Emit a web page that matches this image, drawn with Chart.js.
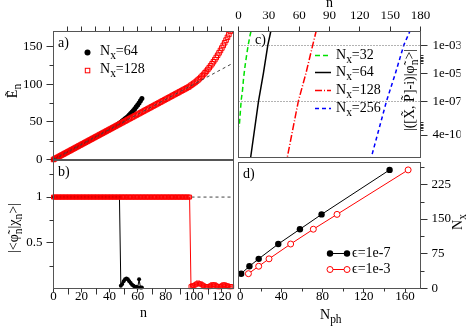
<!DOCTYPE html>
<html><head><meta charset="utf-8">
<script src="https://cdn.jsdelivr.net/npm/chart.js@4.4.1/dist/chart.umd.min.js"></script>
<style>
html,body{margin:0;padding:0;background:#fff;}
#wrap{position:relative;width:471px;height:330px;overflow:hidden;font-family:"Liberation Serif",serif;color:#000;}
canvas{position:absolute;left:0;top:0;}
svg{position:absolute;left:0;top:0;}
.t{position:absolute;white-space:nowrap;font-size:14px;line-height:16px;}
#wrap.small .t{font-size:12px;}
.r{transform:translate(-50%,-50%) rotate(-90deg);}
.t sub{font-size:0.82em;vertical-align:-0.35em;line-height:0;}
</style></head><body>
<div id="wrap">
<canvas id="ca" width="471" height="330"></canvas>
<canvas id="cb" width="471" height="330"></canvas>
<canvas id="cc" width="471" height="330"></canvas>
<canvas id="cd" width="471" height="330"></canvas>
<svg width="471" height="330">
  <circle cx="87.5" cy="52.5" r="3" fill="#000"/>
  <rect x="85.3" y="68.3" width="4.5" height="4.5" fill="none" stroke="#f00" stroke-width="1"/>
  <line x1="315" y1="55.5" x2="331" y2="55.5" stroke="rgb(0,225,0)" stroke-width="1.5" stroke-dasharray="5,3"/>
  <line x1="315" y1="72.5" x2="331" y2="72.5" stroke="#000" stroke-width="1.5"/>
  <line x1="315" y1="90.5" x2="331" y2="90.5" stroke="#f00" stroke-width="1.5" stroke-dasharray="7,2,1,2"/>
  <line x1="315" y1="108.5" x2="331" y2="108.5" stroke="#00f" stroke-width="1.5" stroke-dasharray="4,3"/>
  <line x1="330" y1="253.5" x2="347" y2="253.5" stroke="#000" stroke-width="1"/>
  <circle cx="330" cy="253.5" r="3.2" fill="#000"/>
  <circle cx="347" cy="253.5" r="3.2" fill="#000"/>
  <line x1="330" y1="269.5" x2="347" y2="269.5" stroke="#f00" stroke-width="1"/>
  <circle cx="330" cy="269.5" r="3" fill="#fff" stroke="#f00" stroke-width="1"/>
  <circle cx="347" cy="269.5" r="3" fill="#fff" stroke="#f00" stroke-width="1"/>
</svg>
<div class="t" style="left:58px;top:35px">a)</div>
<div class="t" style="left:58px;top:164px">b)</div>
<div class="t" style="left:255px;top:32px">c)</div>
<div class="t" style="left:243px;top:166px">d)</div>
<div class="t" style="left:100px;top:43px">N<sub>x</sub>=64</div>
<div class="t" style="left:100px;top:61px">N<sub>x</sub>=128</div>
<div class="t" style="left:336px;top:47px">N<sub>x</sub>=32</div>
<div class="t" style="left:336px;top:64px">N<sub>x</sub>=64</div>
<div class="t" style="left:336px;top:82px">N<sub>x</sub>=128</div>
<div class="t" style="left:336px;top:100px">N<sub>x</sub>=256</div>
<div class="t" style="left:352px;top:245px">ϵ=1e-7</div>
<div class="t" style="left:352px;top:261px">ϵ=1e-3</div>
<div class="t" style="left:326px;top:-5px">n</div>
<div class="t" style="left:140px;top:305px">n</div>
<div class="t" style="left:320px;top:307px">N<sub>ph</sub></div>
<div class="t r" style="left:13px;top:91px">Ẽ<sub>n</sub></div>
<div class="t r" style="left:14px;top:228px">|&lt;φ̃<sub>n</sub>|χ<sub>n</sub>&gt;|</div>
<div class="t r" style="left:410px;top:90px">|([X̃, P̃]-i)|φ̃<sub>n</sub>&gt;|</div>
<div class="t r" style="left:458px;top:222px">N<sub>x</sub></div>
</div>
<script>
// ---------- Panel a: energies E_n vs n (index = n) ----------
const energy64 = [0,1,2,3,4,5,6,7,8,9,10,11,12,13,14,15,16,17,18,19,20,21,22,23,24,25,26,27,28,29,30,31,32,33,34,35,36,37,38,39,40,41,42,43,44,
  45.3,46.7,48,49.5,51,52.5,54,55.5,57,59,61,63,65,67.5,70,72.5,75,78,81];
const energy128 = [0,1,2,3,4,5,6,7,8,9,10,11,12,13,14,15,16,17,18,19,20,21,22,23,24,25,26,27,28,29,30,31,32,33,34,35,36,37,38,39,
  40,41,42,43,44,45,46,47,48,49,50,51,52,53,54,55,56,57,58,59,60,61,62,63,64,65,66,67,68,69,70,71,72,73,74,75,76,77,78,79,
  80,81,82,83,84,85,86,87,88,89,90,91,92,93,94,95,96,97,
  98.6,99.8,101.1,102.5,104,105.6,107.3,109.1,111,113,115.1,117.3,119.6,122,124.5,127.1,129.8,132.6,135.5,138.5,
  141.6,144.8,148.1,151.5,155,158.6,162.3,166.1,170.2,174.5];
const guideAn = [0, 130];
const guideAE = [0, 130];
const aYTicks = [0, 50, 100, 150];
const aYMinor = [25, 75, 125];
const aTopTicks = [10, 20, 30, 40, 50, 60, 70, 80, 90, 100, 110, 120];

// ---------- Panel b: overlaps |<phi_n|chi_n>| vs n ----------
const overlap64 = [1,1,1,1,1,1,1,1,1,1,1,1,1,1,1,1,1,1,1,1,1,1,1,1,1,1,1,1,1,1,1,1,1,1,1,1,1,1,1,1,1,1,1,1,1,1,1,1,
  0.03,0.05,0.08,0.10,0.11,0.10,0.08,0.06,0.04,0.03,0.02,0.02,0.01,0.10,0.01,0.01];
const overlap128 = [1,1,1,1,1,1,1,1,1,1,1,1,1,1,1,1,1,1,1,1,1,1,1,1,1,1,1,1,1,1,1,1,1,1,1,1,1,1,1,1,1,1,1,1,1,1,1,1,1,1,
  1,1,1,1,1,1,1,1,1,1,1,1,1,1,1,1,1,1,1,1,1,1,1,1,1,1,1,1,1,1,1,1,1,1,1,1,1,1,1,1,1,1,1,1,1,1,1,1,
  0.02,0.03,0.03,0.04,0.05,0.06,0.05,0.05,0.04,0.03,0.02,0.02,0.02,0.02,0.03,0.04,0.04,0.04,0.03,0.02,
  0.02,0.02,0.03,0.04,0.04,0.03,0.03,0.02,0.02,0.02];
const guideBn = [0, 130];
const guideBv = [1, 1];
const bXTicks = [0, 20, 40, 60, 80, 100, 120];
const bXMinor = [10, 30, 50, 70, 90, 110];
const bYTicks = [0.5, 1];
const bYMinor = [0.25, 0.75, 1.25];

// ---------- Panel c: |([X,P]-i)|phi_n>| vs n ----------
const cN32 = [12.3, 11.5, 9.9, 8.3, 6.6, 5.0, 4.0, 2.7, 1.7, 0.7];
const cErr32 = [1e-2, 5.6e-3, 1.4e-3, 2.8e-4, 4e-5, 4.5e-6, 6.6e-7, 1.3e-7, 1.4e-8, 1.5e-9];
const cN64 = [32.3, 31.9, 29.0, 24.7, 19.8, 12.0];
const cN128 = [77.0, 76.7, 73.4, 66.8, 59.2, 48.2];
const cN256 = [169.8, 169.4, 163.5, 155.3, 146.4, 131.3];
const cErrCommon = [1.3e-2, 1e-2, 1.07e-3, 1.1e-5, 1.07e-7, 1e-11];
const cThresholds = [1e-3, 1e-7];
const cThreshN = [0, 180];
const cXTicks = [0, 30, 60, 90, 120, 150, 180];
const cYTicks = [1e-3, 1e-5, 1e-7, 4e-10];
const cYMinor = [2e-4, 1.6e-4, 1.3e-4, 1e-4, 8e-5, 6e-5, 3.2e-9, 2.5e-9, 2e-9, 1.6e-9, 1.3e-9, 1e-9];

// ---------- Panel d: N_x vs N_ph ----------
const dNx = [32, 48, 64, 96, 128, 160, 256];
const dNph7 = [1, 9, 18, 37, 58, 79, 145];
const dNph3 = [8, 18, 28, 49, 71, 94, 163];
const dXTicks = [0, 40, 80, 120, 160];
const dXMinor = [20, 60, 100, 140];
const dYTicks = [0, 75, 150, 225];
const dYMinor = [37.5, 112.5, 187.5, 262.5];

// ---------- font selection (Times-like serif if present) ----------
function hasFont(name) {
  const c = document.createElement('canvas').getContext('2d');
  const s = 'mmmmmmmmmmlli 0123456789 NxWQ e-03';
  for (const fb of ['monospace', 'sans-serif', 'serif']) {
    c.font = '40px ' + fb; const w0 = c.measureText(s).width;
    c.font = '40px "' + name + '", ' + fb; const w1 = c.measureText(s).width;
    if (Math.abs(w0 - w1) > 0.01) return true;
  }
  return false;
}
const serifCandidates = ['Liberation Serif', 'Times New Roman', 'Tinos', 'Nimbus Roman', 'Nimbus Roman No9 L', 'FreeSerif', 'Times'];
let fam = serifCandidates.find(hasFont);
let tickSize = 13;
if (!fam) { fam = 'DejaVu Serif'; tickSize = 11; document.getElementById('wrap').classList.add('small'); }
const FONT = '"' + fam + '", serif';
document.getElementById('wrap').style.fontFamily = FONT;

Chart.defaults.font.family = FONT;
Chart.defaults.font.size = tickSize;
Chart.defaults.color = '#000';
Chart.defaults.animation = false;

const framePlugin = {
  id: 'frame',
  afterDraw(chart) {
    const a = chart.chartArea, ctx = chart.ctx;
    ctx.save(); ctx.strokeStyle = '#555'; ctx.lineWidth = 1;
    ctx.strokeRect(a.left, a.top, a.right - a.left, a.bottom - a.top);
    ctx.restore();
  }
};
const minorPlugin = {
  id: 'minor',
  afterDraw(chart, args, opts) {
    const ctx = chart.ctx, a = chart.chartArea;
    (opts.list || []).forEach(m => {
      const s = chart.scales[m.axis];
      ctx.save(); ctx.strokeStyle = '#333'; ctx.lineWidth = 1; ctx.beginPath();
      m.values.forEach(v => {
        const p = Math.round(s.getPixelForValue(v)) + 0.5;
        if (s.isHorizontal()) {
          const y0 = s.position === 'top' ? a.top : a.bottom;
          const d = s.position === 'top' ? -1 : 1;
          ctx.moveTo(p, y0); ctx.lineTo(p, y0 + d * m.len);
        } else {
          const x0 = s.position === 'left' ? a.left : a.right;
          const d = s.position === 'left' ? -1 : 1;
          ctx.moveTo(x0, p); ctx.lineTo(x0 + d * m.len, p);
        }
      });
      ctx.stroke(); ctx.restore();
    });
  }
};

function axis(pos, min, max, ticks, o) {
  return {
    type: o.type || 'linear', position: pos, min: min, max: max,
    afterBuildTicks: s => { s.ticks = ticks.map(v => ({ value: v })); },
    afterFit: s => { if (s.isHorizontal()) s.height = o.size; else s.width = o.size; },
    grid: { display: true, drawOnChartArea: false, drawTicks: true, tickLength: o.tl, tickColor: '#333', tickWidth: 1 },
    border: { display: false },
    ticks: { display: o.labels !== false, padding: o.pad, autoSkip: false, maxRotation: 0, minRotation: 0,
      color: '#000', font: { family: FONT, size: tickSize }, callback: o.fmt || (v => String(v)) }
  };
}
function pts(xs, ys) { return xs.map((x, i) => ({ x: x, y: ys[i] })); }
function idx(vals) { return vals.map((v, i) => ({ x: i, y: v })); }
function base(padding, scales, minor) {
  return {
    responsive: false, animation: false, events: [],
    layout: { padding: padding },
    scales: scales,
    plugins: { legend: { display: false }, tooltip: { enabled: false }, minor: { list: minor } }
  };
}

// Panel a
new Chart(document.getElementById('ca'), {
  type: 'scatter',
  data: { datasets: [
    { data: pts(guideAn, guideAE), showLine: true, borderColor: '#444', borderWidth: 1, borderDash: [3, 3], pointRadius: 0 },
    { data: idx(energy128), showLine: false, pointStyle: 'rect', pointRadius: 3.2, pointBorderColor: '#f00', pointBorderWidth: 1,
      pointBackgroundColor: 'rgba(0,0,0,0)', clip: { left: 5, bottom: 5, top: 0, right: 0 } },
    { data: idx(energy64), showLine: false, pointStyle: 'circle', pointRadius: 2.5, pointBackgroundColor: '#000', pointBorderWidth: 0,
      clip: { left: 5, bottom: 5, top: 0, right: 0 } }
  ] },
  options: base({ left: 13.5, top: 21.5, right: 237.5, bottom: 170.5 }, {
    x: axis('top', 0, 128.3, aTopTicks, { size: 10, tl: 5, pad: 0, labels: false }),
    y: axis('left', 0, 170, aYTicks, { size: 40, tl: 7, pad: 4 })
  }, [{ axis: 'y', values: aYMinor, len: 4 }]),
  plugins: [framePlugin, minorPlugin]
});

// Panel b
new Chart(document.getElementById('cb'), {
  type: 'scatter',
  data: { datasets: [
    { data: idx(overlap128), showLine: true, borderColor: '#f00', borderWidth: 1, pointStyle: 'rect', pointRadius: 2.8,
      pointBorderColor: '#f00', pointBorderWidth: 1, pointBackgroundColor: 'rgba(0,0,0,0)', clip: 5 },
    { data: idx(overlap64), showLine: true, borderColor: '#000', borderWidth: 1, pointStyle: 'circle', pointRadius: 2,
      pointBackgroundColor: '#000', pointBorderWidth: 0, clip: 5 },
    { data: pts(guideBn, guideBv), showLine: true, borderColor: '#444', borderWidth: 1, borderDash: [3, 3], pointRadius: 0 }
  ] },
  options: base({ left: 13.5, top: 160.5, right: 237.5, bottom: 21.5 }, {
    x: axis('bottom', 0, 128.3, bXTicks, { size: 20, tl: 4, pad: -4 }),
    y: axis('left', 0, 1.4, bYTicks, { size: 40, tl: 7, pad: 4 })
  }, [{ axis: 'y', values: bYMinor, len: 4 }, { axis: 'x', values: bXMinor, len: 6 }]),
  plugins: [framePlugin, minorPlugin]
});

// Panel c
function expFmt(v) { return Number(v).toExponential(0).replace(/e([+-])(\d)$/, 'e$10$2'); }
new Chart(document.getElementById('cc'), {
  type: 'scatter',
  data: { datasets: [
    { data: pts(cThreshN, [cThresholds[0], cThresholds[0]]), showLine: true, borderColor: '#666', borderWidth: 1, borderDash: [1, 2], pointRadius: 0 },
    { data: pts(cThreshN, [cThresholds[1], cThresholds[1]]), showLine: true, borderColor: '#666', borderWidth: 1, borderDash: [1, 2], pointRadius: 0 },
    { data: pts(cN32, cErr32), showLine: true, borderColor: 'rgb(0,225,0)', borderWidth: 1.5, borderDash: [5, 3], pointRadius: 0 },
    { data: pts(cN64, cErrCommon), showLine: true, borderColor: '#000', borderWidth: 1.5, pointRadius: 0 },
    { data: pts(cN128, cErrCommon), showLine: true, borderColor: '#f00', borderWidth: 1.5, borderDash: [7, 2, 1, 2], pointRadius: 0 },
    { data: pts(cN256, cErrCommon), showLine: true, borderColor: '#00f', borderWidth: 1.5, borderDash: [4, 3], pointRadius: 0 }
  ] },
  options: base({ left: 238.5, top: 11.5, right: 10.5, bottom: 172.5 }, {
    x: axis('top', 0, 180, cXTicks, { size: 20, tl: 5, pad: 3 }),
    y: axis('right', 1e-11, 1e-2, cYTicks, { type: 'logarithmic', size: 40, tl: 7, pad: 5, fmt: expFmt })
  }, [{ axis: 'y', values: cYMinor, len: 3 }]),
  plugins: [framePlugin, minorPlugin]
});

// Panel d
new Chart(document.getElementById('cd'), {
  type: 'scatter',
  data: { datasets: [
    { data: pts(dNph7, dNx), showLine: true, borderColor: '#000', borderWidth: 1, pointStyle: 'circle', pointRadius: 3.2,
      pointBackgroundColor: '#000', pointBorderWidth: 0, clip: 5 },
    { data: pts(dNph3, dNx), showLine: true, borderColor: '#f00', borderWidth: 1, pointStyle: 'circle', pointRadius: 3,
      pointBackgroundColor: '#fff', pointBorderColor: '#f00', pointBorderWidth: 1, clip: 5 }
  ] },
  options: base({ left: 238.5, top: 162.5, right: 10.5, bottom: 21.5 }, {
    x: axis('bottom', -1.6, 175, dXTicks, { size: 20, tl: 4, pad: -4 }),
    y: axis('right', 0, 272, dYTicks, { size: 40, tl: 7, pad: 4 })
  }, [{ axis: 'y', values: dYMinor, len: 4 }, { axis: 'x', values: dXMinor, len: 3 }]),
  plugins: [framePlugin, minorPlugin]
});
</script>
</body></html>
